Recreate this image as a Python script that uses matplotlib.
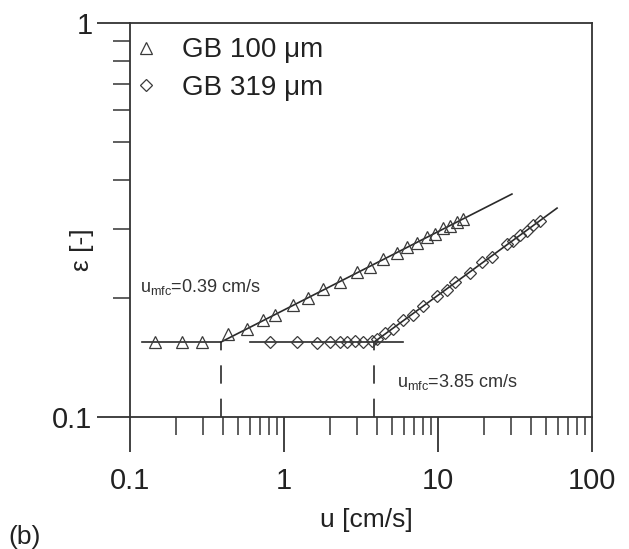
import matplotlib
matplotlib.use("Agg")
import matplotlib.pyplot as plt
from matplotlib.ticker import FixedLocator, NullFormatter

plt.rcParams['font.family'] = ['Liberation Sans', 'DejaVu Sans']
plt.rcParams['mathtext.fontset'] = 'custom'
plt.rcParams['mathtext.rm'] = 'Liberation Sans'
plt.rcParams['mathtext.it'] = 'Liberation Sans'

# ---- data ----
gb100_u = [0.145, 0.218, 0.294, 0.433, 0.575, 0.731, 0.875, 1.14, 1.43, 1.79, 2.31,
           2.98, 3.62, 4.39, 5.42, 6.29, 7.31, 8.49, 9.57, 10.8, 12.0, 13.3, 14.5]
gb100_eps = [0.155, 0.155, 0.155, 0.162, 0.167, 0.176, 0.181, 0.192, 0.200, 0.211, 0.220,
             0.233, 0.240, 0.252, 0.261, 0.270, 0.277, 0.287, 0.292, 0.301, 0.305, 0.313, 0.319]

gb319_u = [0.81, 1.21, 1.64, 1.99, 2.31, 2.57, 2.89, 3.26, 3.73, 4.02, 4.53, 5.10, 5.93,
           6.89, 8.0, 9.86, 11.4, 12.9, 16.1, 19.3, 22.4, 28.1, 30.7, 34.0, 37.8, 41.4, 45.9]
gb319_eps = [0.155, 0.155, 0.154, 0.155, 0.155, 0.155, 0.156, 0.155, 0.156, 0.158, 0.163,
             0.167, 0.176, 0.182, 0.191, 0.203, 0.210, 0.220, 0.232, 0.247, 0.255, 0.275,
             0.279, 0.290, 0.297, 0.307, 0.314]

fit100_flat_u = [0.12, 0.39]
fit100_flat_eps = [0.155, 0.155]
fit100_rise_u = [0.39, 30.2]
fit100_rise_eps = [0.155, 0.368]
fit319_flat_u = [0.60, 5.93]
fit319_flat_eps = [0.155, 0.155]
fit319_rise_u = [3.85, 59.3]
fit319_rise_eps = [0.155, 0.339]
umf = [0.39, 3.85]
umf_eps = 0.155

labels = ['GB 100 μm', 'GB 319 μm']
ann_text = [r'u$_{\rm mfc}$=0.39 cm/s', r'u$_{\rm mfc}$=3.85 cm/s']
ann_pos = [(0.116, 0.2077), (5.42, 0.1192)]

# ---- figure ----
W, H = 629, 549
fig = plt.figure(figsize=(W / 100, H / 100), dpi=100)
ax = fig.add_axes([130 / W, 1 - 417 / H, (592 - 130) / W, (417 - 23) / H])
ax.set_xscale('log')
ax.set_yscale('log')
ax.set_xlim(0.1, 100)
ax.set_ylim(0.1, 1)

lc = '#2a2a2a'
mc = '#3a3a3a'
for u, e in [(fit100_flat_u, fit100_flat_eps), (fit100_rise_u, fit100_rise_eps),
             (fit319_flat_u, fit319_flat_eps), (fit319_rise_u, fit319_rise_eps)]:
    ax.plot(u, e, color=lc, lw=1.2, zorder=2)

ax.plot(gb100_u, gb100_eps, ls='none', marker='^', ms=8.5, mfc='none', mec=mc, mew=0.9,
        label=labels[0], zorder=3)
ax.plot(gb319_u, gb319_eps, ls='none', marker='D', ms=6.2, mfc='none', mec=mc, mew=0.9,
        label=labels[1], zorder=3)

for x in umf:
    ax.plot([x, x], [0.1, umf_eps], color=lc, lw=1.2, dashes=(11, 9), zorder=2)

for t, (x, y) in zip(ann_text, ann_pos):
    ax.text(x, y, t, fontsize=13, color='#333333', ha='left', va='baseline')

for s in ax.spines.values():
    s.set_color('#333333')
    s.set_linewidth(1.3)

ax.xaxis.set_major_locator(FixedLocator([0.1, 1, 10, 100]))
ax.xaxis.set_minor_locator(FixedLocator([m * d for d in (0.1, 1, 10) for m in range(2, 10)]))
ax.yaxis.set_major_locator(FixedLocator([0.1, 1]))
ax.yaxis.set_minor_locator(FixedLocator([m * 0.1 for m in range(2, 10)]))
ax.xaxis.set_minor_formatter(NullFormatter())
ax.yaxis.set_minor_formatter(NullFormatter())
ax.set_xticklabels(['0.1', '1', '10', '100'])
ax.set_yticklabels(['0.1', '1'])

ax.tick_params(axis='x', which='major', direction='out', length=25, width=1.3,
               color='#333333', labelsize=21, pad=11, labelcolor='#222222')
ax.tick_params(axis='x', which='minor', direction='out', length=13, width=1.1,
               color='#333333')
ax.tick_params(axis='y', which='major', direction='out', length=24, width=1.3,
               color='#333333', labelsize=21, pad=3, labelcolor='#222222')
ax.tick_params(axis='y', which='minor', direction='out', length=12, width=1.1,
               color='#333333')

fig.text(366 / W, 1 - 520 / H, 'u [cm/s]', fontsize=19, ha='center', va='center', color='#222222')
fig.text(82 / W, 1 - 250 / H, 'ε [-]', fontsize=19, ha='center', va='center',
         rotation=90, color='#222222')
fig.text(8 / W, 1 - 537 / H, '(b)', fontsize=19, ha='left', va='center', color='#222222')

ax.legend(loc='upper left', bbox_to_anchor=(-0.02, 0.992), frameon=False, fontsize=20,
          handlelength=1.0, handletextpad=0.8, labelspacing=0.42, borderaxespad=0,
          markerscale=1.0, labelcolor='#222222')

fig.savefig('out.png', dpi=100)
